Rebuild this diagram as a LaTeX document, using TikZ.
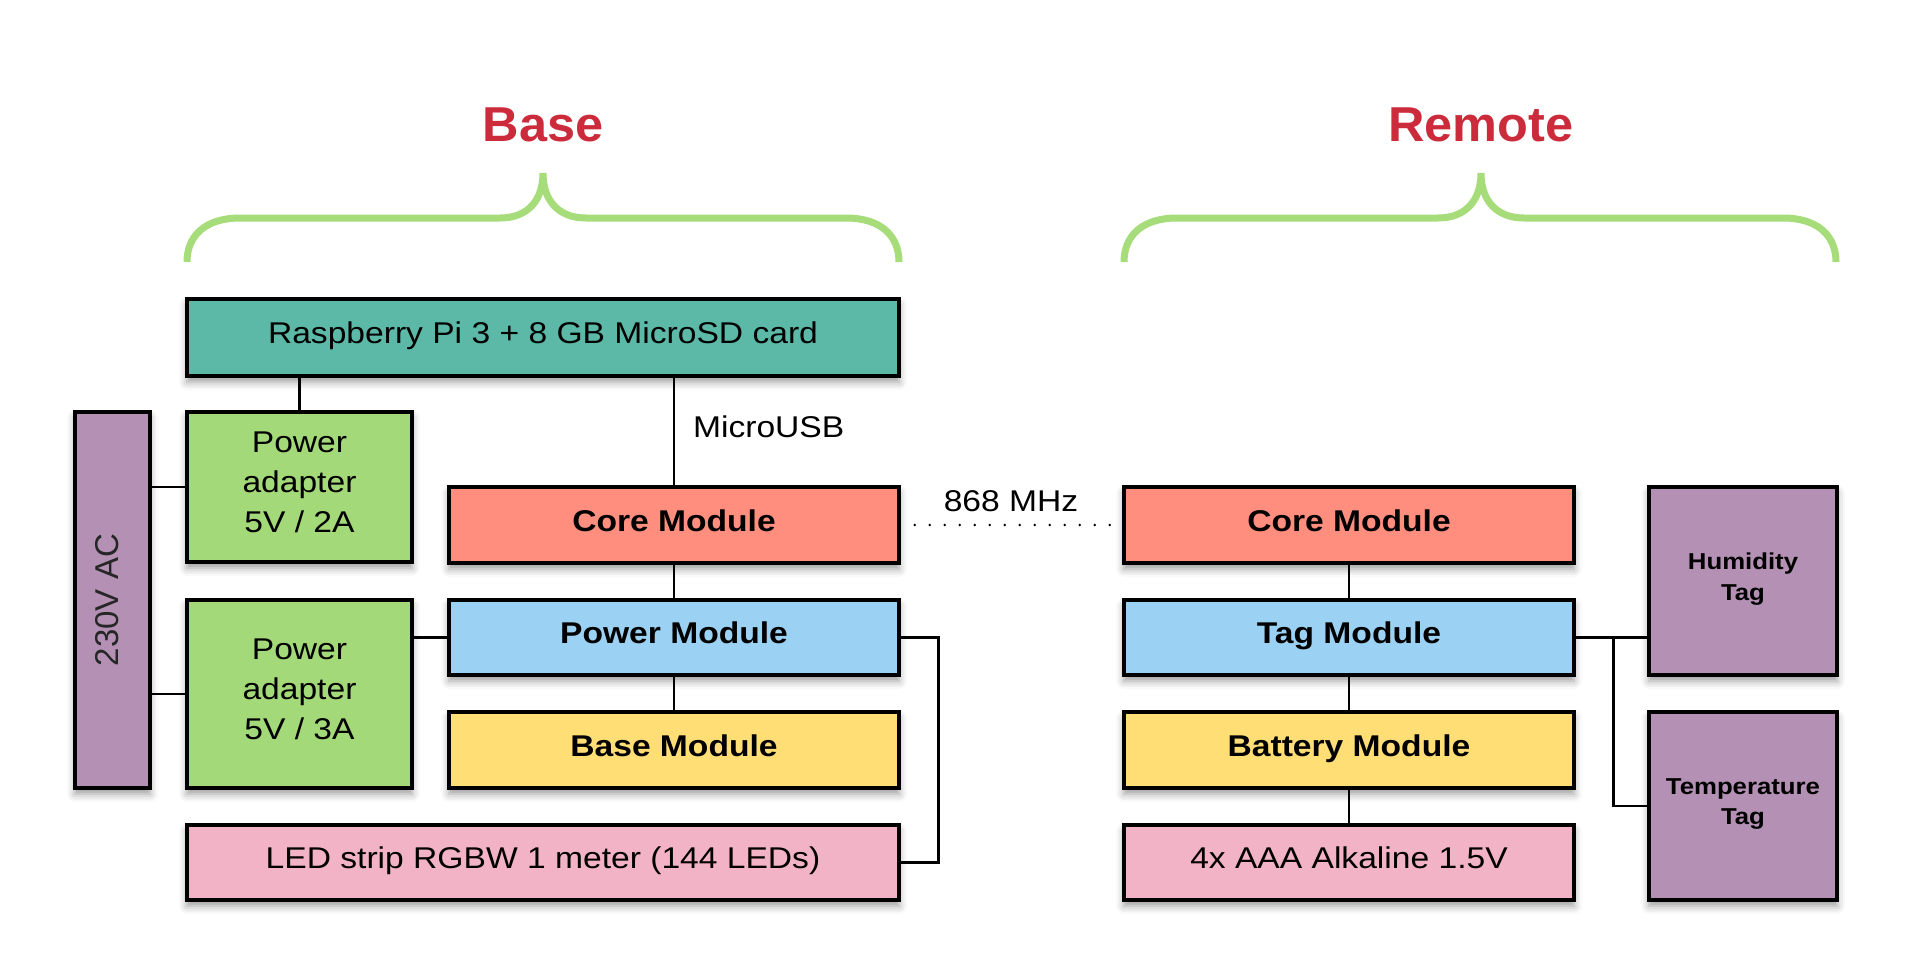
\documentclass[tikz,border=0pt]{standalone}
\usepackage{fontspec}
\setmainfont{Liberation Sans}[FakeStretch=1.12]
\newfontfamily\titlefont{Liberation Sans}[FakeStretch=1.03]
\newfontfamily\acfont{Liberation Sans}
\usetikzlibrary{shadows.blur}
\definecolor{cteal}{HTML}{5CB8A7}
\definecolor{cgreen}{HTML}{A4D979}
\definecolor{cpurple}{HTML}{B490B4}
\definecolor{csalmon}{HTML}{FF8E7F}
\definecolor{cblue}{HTML}{9BD1F2}
\definecolor{cyellow}{HTML}{FFDE75}
\definecolor{cpink}{HTML}{F3B3C7}
\definecolor{cbrace}{HTML}{A6DC7A}
\definecolor{ctitle}{HTML}{CC2B3B}
\begin{document}
\begin{tikzpicture}[x=0.5pt,y=-0.5pt,
  box/.style={draw=black, line width=1.75pt, inner sep=0pt, align=center,
    font=\fontsize{15pt}{20pt}\selectfont,
    execute at end node={\rule[-4.5pt]{0pt}{0pt}},
    blur shadow={shadow xshift=0pt, shadow yshift=-3pt, shadow blur radius=4pt, shadow opacity=40}},
  bold/.style={font=\bfseries\fontsize{15pt}{20pt}\selectfont},
  tagbox/.style={box, minimum width=94pt, minimum height=94pt, fill=cpurple,
    font=\bfseries\fontsize{11.5pt}{15.3pt}\selectfont,
    execute at end node={\rule[-3.6pt]{0pt}{0pt}}},
  wide/.style={minimum width=356pt},
  modbox/.style={minimum width=225pt, minimum height=38pt},
  wire/.style={draw=black, line width=1.4pt},
  radio/.style={draw=black, line width=1.4pt, line cap=round, dash pattern=on 0pt off 7.5pt},
  brace/.style={draw=cbrace, line width=3.5pt},
  title/.style={text=ctitle, font=\titlefont\bfseries\fontsize{24.5pt}{28pt}\selectfont},
  lbl/.style={font=\fontsize{15pt}{20pt}\selectfont}
]
\useasboundingbox (0,0) rectangle (1913,975);

% titles and braces
\node[title] (tbase) at (543,124.5) {Base};
\node[title] (tremote) at (1481,124.5) {Remote};
\draw[brace] (187,262) .. controls (187,236) and (205,218) .. (240,218) -- (500,218)
  .. controls (528,218) and (543,200) .. (543,173)
  .. controls (543,200) and (558,218) .. (586,218) -- (846,218)
  .. controls (881,218) and (899,236) .. (899,262);
\draw[brace] (1124,262) .. controls (1124,236) and (1142,218) .. (1177,218) -- (1438,218)
  .. controls (1466,218) and (1481,200) .. (1481,173)
  .. controls (1481,200) and (1496,218) .. (1524,218) -- (1783,218)
  .. controls (1818,218) and (1836,236) .. (1836,262);

% base side
\node[box, wide, minimum height=38.5pt, fill=cteal] (rpi) at (543,337.5) {Raspberry Pi 3 + 8 GB MicroSD card};
\node[box, minimum width=112.5pt, minimum height=75pt, fill=cgreen] (pa1) at (299.5,487) {Power\\adapter\\5V / 2A};
\node[box, minimum width=112.5pt, minimum height=94pt, fill=cgreen] (pa2) at (299.5,694) {Power\\adapter\\5V / 3A};
\node[box, minimum width=37.5pt, minimum height=188pt, fill=cpurple] (ac) at (112.5,600) {};
\node[rotate=90, text=black!85, font=\acfont\fontsize{16.5pt}{20pt}\selectfont] (actext) at (107.5,600) {230V AC};
\node[box, modbox, bold, fill=csalmon] (coreb) at (674,525) {Core Module};
\node[box, modbox, minimum height=37.5pt, bold, fill=cblue] (power) at (674,637.5) {Power Module};
\node[box, modbox, bold, fill=cyellow] (basem) at (674,750) {Base Module};
\node[box, wide, minimum height=37.5pt, fill=cpink] (led) at (543,862.5) {LED strip RGBW 1 meter (144 LEDs)};

% remote side
\node[box, modbox, bold, fill=csalmon] (corer) at (1349,525) {Core Module};
\node[box, modbox, minimum height=37.5pt, bold, fill=cblue] (tagm) at (1349,637.5) {Tag Module};
\node[box, modbox, bold, fill=cyellow] (batt) at (1349,750) {Battery Module};
\node[box, modbox, minimum height=37.5pt, fill=cpink] (aaa) at (1349,862.5) {4x AAA Alkaline 1.5V};
\node[tagbox] (hum) at (1743,581) {Humidity\\Tag};
\node[tagbox] (temp) at (1743,806) {Temperature\\Tag};

% connectors base
\draw[wire] (pa1.north) -- (pa1.north |- rpi.south);
\draw[wire] (coreb.north) -- (coreb.north |- rpi.south);
\node[lbl, anchor=base west] (usb) at (686,437) {MicroUSB};
\draw[wire] (pa1.west) -- (pa1.west -| ac.east);
\draw[wire] (pa2.west) -- (pa2.west -| ac.east);
\draw[wire] (power.west) -- (power.west -| pa2.east);
\draw[wire] (coreb.south) -- (power.north);
\draw[wire] (power.south) -- (basem.north);
\coordinate (ledbend) at ([xshift=19pt]power.east);
\draw[wire] (power.east) -- (ledbend) |- (led.east);

% radio link
\draw[radio] ([xshift=7pt]coreb.east) -- ([xshift=-6pt]corer.west);
\node[lbl] (mhz) at (1011,501.5) {868 MHz};

% connectors remote
\draw[wire] (corer.south) -- (tagm.north);
\draw[wire] (tagm.south) -- (batt.north);
\draw[wire] (batt.south) -- (aaa.north);
\coordinate (tagj) at ([xshift=18.75pt]tagm.east);
\draw[wire] (tagm.east) -- (tagm.east -| hum.west);
\draw[wire] (tagj) |- (temp.west);
\end{tikzpicture}
\end{document}
